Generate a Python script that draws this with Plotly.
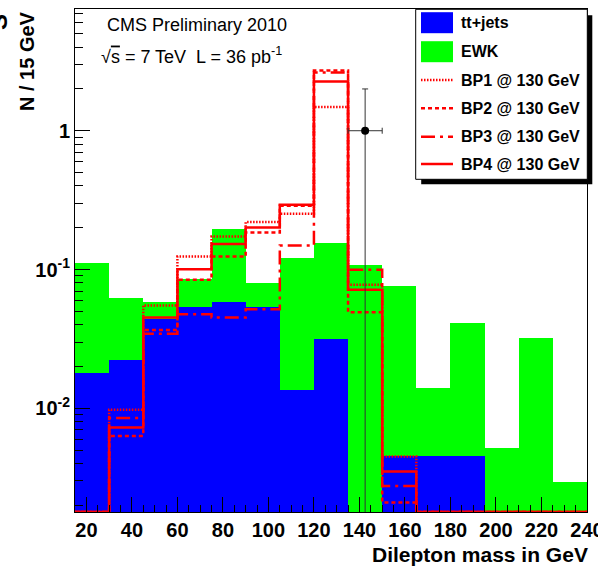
import plotly.graph_objects as go

# ---- binning (15 GeV bins) ----
bin_edges = [15, 30, 45, 60, 75, 90, 105, 120, 135, 150, 165, 180, 195, 210, 225, 240]
bin_centers = [0.5 * (a + b) for a, b in zip(bin_edges[:-1], bin_edges[1:])]
bin_width = 15

# ---- stacked backgrounds ----
tt_jets = [0.018, 0.0223, 0.0439, 0.0541, 0.0585, 0.0541, 0.0136, 0.0315,
           0.0, 0.0045, 0.0045, 0.0045, 0.0, 0.0, 0.0]
ewk = [0.094, 0.0399, 0.0149, 0.0316, 0.138, 0.0261, 0.1084, 0.1235,
       0.108, 0.0718, 0.0096, 0.037, 0.00515, 0.0323, 0.00293]

# ---- signal benchmark points (step histograms) ----
bp1 = [0.0, 0.00975, 0.055, 0.124, 0.173, 0.2196, 0.252, 1.48,
       0.0776, 0.00449, 0.0, 0.0, 0.0, 0.0, 0.0]
bp2 = [0.0, 0.00633, 0.0367, 0.0843, 0.124, 0.185, 0.288, 2.72,
       0.0493, 0.0021, 0.0, 0.0, 0.0, 0.0, 0.0]
bp3 = [0.0, 0.0085, 0.0344, 0.0477, 0.0451, 0.0518, 0.149, 2.63,
       0.0995, 0.00276, 0.0, 0.0, 0.0, 0.0, 0.0]
bp4 = [0.0, 0.00726, 0.0451, 0.1006, 0.153, 0.201, 0.2927, 2.26,
       0.0714, 0.0035, 0.0, 0.0, 0.0, 0.0, 0.0]

# ---- observed data ----
data_x = [142.5]
data_y = [1.0]
data_yerr = [1.0]
data_xerr = [7.5]

# ---- axis ----
Y_LOG_MIN, Y_LOG_MAX = -2.747, 0.877
Y_MIN = 10 ** Y_LOG_MIN
y_tickvals = [0.01, 0.1, 1]
y_ticktext = ["10<sup>-2</sup>", "10<sup>-1</sup>", "1"]
x_tickvals = list(range(20, 241, 20))

W, H = 598, 566
L, R, T, B = 75, 11, 9, 54
PW, PH = W - L - R, H - T - B

FONT = "Liberation Sans, Arial, Helvetica, sans-serif"
RED = "#ff0000"
BLUE = "#0000ff"
GREEN = "#00ff00"


def px(x):
    return (x - L) / PW


def py(y):
    return (H - B - y) / PH


def step_y(vals):
    v = [max(a, Y_MIN) for a in vals]
    return v + [v[-1]]


fig = go.Figure()

fig.add_trace(go.Bar(x=bin_centers, y=tt_jets, width=bin_width, name="tt+jets",
                     marker=dict(color=BLUE, line=dict(width=0)), showlegend=False))
fig.add_trace(go.Bar(x=bin_centers, y=ewk, width=bin_width, name="EWK",
                     marker=dict(color=GREEN, line=dict(width=0)), showlegend=False))

bp_styles = [
    ("BP1 @ 130 GeV", bp1, "1.5px,1.5px"),
    ("BP2 @ 130 GeV", bp2, "4px,3px"),
    ("BP3 @ 130 GeV", bp3, "14px,5px,3px,5px"),
    ("BP4 @ 130 GeV", bp4, "solid"),
]
for name, vals, dash in bp_styles:
    fig.add_trace(go.Scatter(x=bin_edges, y=step_y(vals), mode="lines", name=name,
                             line=dict(color=RED, width=2.5, dash=dash, shape="hv"),
                             showlegend=False))

fig.add_trace(go.Scatter(
    x=data_x, y=data_y, mode="markers", name="data", showlegend=False,
    marker=dict(color="black", size=8),
    error_y=dict(type="data", array=data_yerr, arrayminus=data_yerr,
                 color="#333333", thickness=1, width=3),
    error_x=dict(type="data", array=data_xerr, color="#333333", thickness=1, width=3),
))

# ---- legend box drawn with shapes and annotations ----
shapes = []
annotations = []
box_l, box_r, box_t, box_b = 415.7, 587.3, 9.3, 179.3
shapes.append(dict(type="rect", xref="paper", yref="paper", layer="above",
                   x0=px(box_l + 5.5), x1=px(box_r + 5), y0=py(box_t + 6), y1=py(box_b + 5),
                   fillcolor="black", line=dict(width=0)))
shapes.append(dict(type="rect", xref="paper", yref="paper", layer="above",
                   x0=px(box_l), x1=px(box_r), y0=py(box_t), y1=py(box_b),
                   fillcolor="white", line=dict(color="black", width=1)))

legend_rows = [22.7, 51.7, 80.0, 108.3, 136.7, 164.0]
legend_labels = ["tt+jets", "EWK"] + [s[0] for s in bp_styles]
sw_l, sw_r = 421, 453
for i, (row, label) in enumerate(zip(legend_rows, legend_labels)):
    if i < 2:
        shapes.append(dict(type="rect", xref="paper", yref="paper", layer="above",
                           x0=px(sw_l), x1=px(sw_r), y0=py(row + 10.5), y1=py(row - 10.5),
                           fillcolor=[BLUE, GREEN][i], line=dict(width=0)))
    else:
        shapes.append(dict(type="line", xref="paper", yref="paper", layer="above",
                           x0=px(sw_l), x1=px(sw_r), y0=py(row), y1=py(row),
                           line=dict(color=RED, width=2.5, dash=bp_styles[i - 2][2])))
    annotations.append(dict(text=label, xref="paper", yref="paper", x=px(459), y=py(row),
                            xanchor="left", yanchor="middle", showarrow=False,
                            font=dict(family=FONT, size=16, color="black", weight="bold")))

# ---- headers and axis titles ----
annotations.append(dict(text="CMS Preliminary 2010", xref="paper", yref="paper",
                        x=px(105), y=py(24.5), xanchor="left", yanchor="middle",
                        showarrow=False, font=dict(family=FONT, size=18, color="black")))
annotations.append(dict(text="√<span style='text-decoration:overline'>s</span> = 7 TeV  L = 36 pb<sup>-1</sup>",
                        xref="paper", yref="paper",
                        x=px(99), y=py(56), xanchor="left", yanchor="middle",
                        showarrow=False, font=dict(family=FONT, size=18, color="black")))
annotations.append(dict(text="N / 15 GeV", xref="paper", yref="paper",
                        x=px(27), y=py(61), xanchor="center", yanchor="middle",
                        textangle=-90, showarrow=False,
                        font=dict(family=FONT, size=20, color="black", weight="bold")))
annotations.append(dict(text="S", xref="paper", yref="paper",
                        x=px(-2), y=py(22), xanchor="center", yanchor="middle",
                        textangle=-90, showarrow=False,
                        font=dict(family=FONT, size=24, color="black", weight="bold")))
annotations.append(dict(text="Dilepton mass in GeV", xref="paper", yref="paper",
                        x=px(590), y=py(554), xanchor="right", yanchor="middle",
                        showarrow=False,
                        font=dict(family=FONT, size=21, color="black", weight="bold")))

y_minor = [m * 10 ** k for k in (-3, -2, -1, 0) for m in range(2, 10)
           if Y_MIN < m * 10 ** k < 10 ** Y_LOG_MAX]

fig.update_layout(
    width=W, height=H,
    margin=dict(l=L, r=R, t=T, b=B, pad=0, autoexpand=False),
    paper_bgcolor="white", plot_bgcolor="white",
    barmode="stack", bargap=0,
    showlegend=False,
    shapes=shapes, annotations=annotations,
    xaxis=dict(range=[15, 240], tickmode="array", tickvals=x_tickvals,
               ticks="inside", ticklen=15, tickwidth=1, tickcolor="black",
               ticklabeloverflow="allow", automargin=False,
               minor=dict(dtick=5, tick0=0, ticks="inside", ticklen=7, tickcolor="black"),
               showline=True, linecolor="black", linewidth=1, mirror=True,
               showgrid=False, zeroline=False,
               tickfont=dict(family=FONT, size=20, color="black", weight="bold")),
    yaxis=dict(type="log", range=[Y_LOG_MIN, Y_LOG_MAX], tickmode="array",
               tickvals=y_tickvals, ticktext=y_ticktext, automargin=False,
               ticks="inside", ticklen=15, tickwidth=1, tickcolor="black",
               minor=dict(tickmode="array", tickvals=y_minor, ticks="inside",
                          ticklen=8, tickcolor="black"),
               showline=True, linecolor="black", linewidth=1, mirror=True,
               showgrid=False, zeroline=False,
               tickfont=dict(family=FONT, size=20, color="black", weight="bold")),
)

fig.write_html("out.html")
